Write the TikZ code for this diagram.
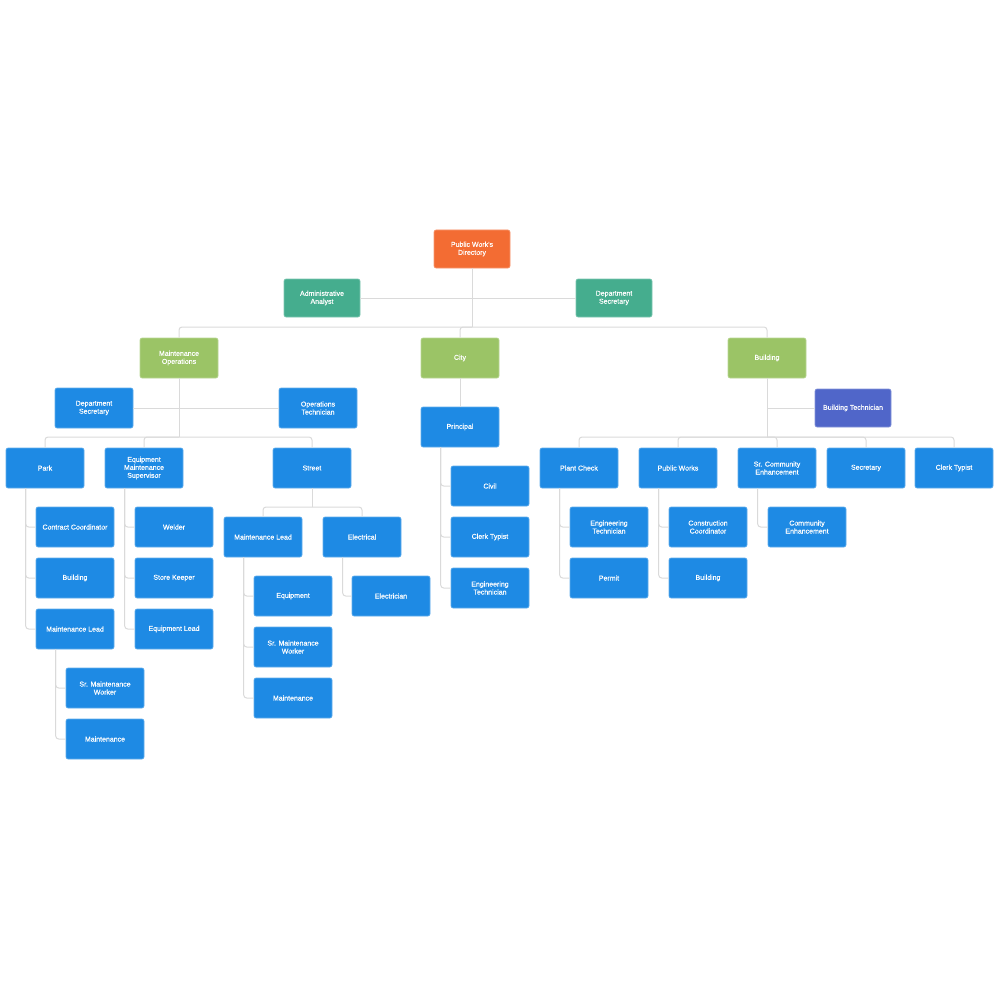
\documentclass[tikz,border=0pt]{standalone}
\usepackage{fontspec}
\setmainfont{Liberation Sans}
\newfontfamily\pwfont[FakeBold=0.35]{Liberation Sans}
\usetikzlibrary{calc}
\definecolor{PwOrange}{RGB}{243,108,51}
\definecolor{PwTeal}{RGB}{69,173,142}
\definecolor{PwGreen}{RGB}{155,196,102}
\definecolor{PwBlue}{RGB}{30,138,228}
\definecolor{PwPurple}{RGB}{80,102,201}
\definecolor{PwLine}{RGB}{218,218,218}
\tikzset{
  pw/box/.style={
    fill=PwBlue,
    draw=PwBlue!70!white,
    line width=0.6pt,
    rounded corners=2pt,
    align=center,
    text=white,
    minimum width=78pt,
    minimum height=40pt,
    inner sep=2pt,
    font=\pwfont\fontsize{7}{8}\selectfont
  },
  pw/root/.style={pw/box, fill=PwOrange, draw=PwOrange!70!white, minimum width=76pt, minimum height=38pt},
  pw/staff/.style={pw/box, fill=PwTeal, draw=PwTeal!70!white, minimum width=76pt, minimum height=38pt},
  pw/division/.style={pw/box, fill=PwGreen, draw=PwGreen!70!white},
  pw/special/.style={pw/box, fill=PwPurple, draw=PwPurple!70!white, minimum width=76pt, minimum height=38pt},
  pw/line/.style={draw=PwLine, line width=1pt, rounded corners=3pt}
}

\begin{document}
\begin{tikzpicture}[x=1pt,y=-1pt]
  \useasboundingbox (0,0) rectangle (1000,1000);

  % top of the chart
  \node[pw/root] (root) at (472,249) {Public Work's\\Directory};
  \node[pw/staff] (aa) at (322,298) {Administrative\\Analyst};
  \node[pw/staff] (dsec) at (614,298) {Department\\Secretary};
  \node[pw/division] (mo) at (179,358) {Maintenance\\Operations};
  \node[pw/division] (city) at (460,358) {City};
  \node[pw/division] (bldg) at (767,358) {Building};
  \node[pw/special] (btech) at (853,408) {Building Technician};

  % blue boxes
  \foreach \nm/\x/\y/\txt in {
    msec/94/408/{Department\\Secretary}, optech/318/408/{Operations\\Technician},
    park/45/468/Park, ems/144/468/{Equipment\\Maintenance\\Supervisor}, street/312/468/Street,
    pk1/75/527/Contract Coordinator, pk2/75/578/Building, pk3/75/629/Maintenance Lead,
    pk4/105/688/{Sr. Maintenance\\Worker}, pk5/105/739/Maintenance,
    em1/174/527/Welder, em2/174/578/Store Keeper, em3/174/629/Equipment Lead,
    st1/263/537/Maintenance Lead, st2/362/537/Electrical,
    sl1/293/596/Equipment, sl2/293/647/{Sr. Maintenance\\Worker}, sl3/293/698/Maintenance,
    se1/391/596/Electrician,
    prin/460/427/Principal, pr1/490/486/Civil, pr2/490/537/Clerk Typist, pr3/490/588/{Engineering\\Technician},
    pc/579/468/Plant Check, pw/678/468/Public Works, sce/777/468/{Sr. Community\\Enhancement},
    sec/866/468/Secretary, ct/954/468/Clerk Typist,
    pc1/609/527/{Engineering\\Technician}, pc2/609/578/Permit,
    pw1/708/527/{Construction\\Coordinator}, pw2/708/578/Building,
    sc1/807/527/{Community\\Enhancement}}
  {\node[pw/box] (\nm) at (\x,\y) {\txt};}

  % bus points
  \coordinate (topbus) at (472,327);
  \coordinate (mobus) at (179,437);
  \coordinate (stbus) at (312,507);
  \coordinate (bbus) at (767,437);

  \draw[pw/line] (root.south) -- (topbus);
  \draw[pw/line] (aa.east) -- (dsec.west);
  \foreach \c in {mo,city,bldg} \draw[pw/line] (\c.north) |- (topbus);

  \draw[pw/line] (mo.south) -- (mobus);
  \draw[pw/line] (msec.east) -- (optech.west);
  \foreach \c in {park,ems,street} \draw[pw/line] (\c.north) |- (mobus);

  \draw[pw/line] (street.south) -- (stbus);
  \foreach \c in {st1,st2} \draw[pw/line] (\c.north) |- (stbus);

  \draw[pw/line] (city.south) -- (prin.north);

  \draw[pw/line] (bldg.south) -- (bbus);
  \draw[pw/line] (btech.west) -- (btech.west -| bldg.south);
  \foreach \c in {pc,pw,sce,sec,ct} \draw[pw/line] (\c.north) |- (bbus);

  % side branches
  \foreach \p/\c in {park/pk1,park/pk2,park/pk3,pk3/pk4,pk3/pk5,
    ems/em1,ems/em2,ems/em3,st1/sl1,st1/sl2,st1/sl3,st2/se1,
    prin/pr1,prin/pr2,prin/pr3,pc/pc1,pc/pc2,pw/pw1,pw/pw2,sce/sc1}
    \draw[pw/line] (\c.west) -| ($(\p.south west)+(20,0)$);
\end{tikzpicture}
\end{document}
